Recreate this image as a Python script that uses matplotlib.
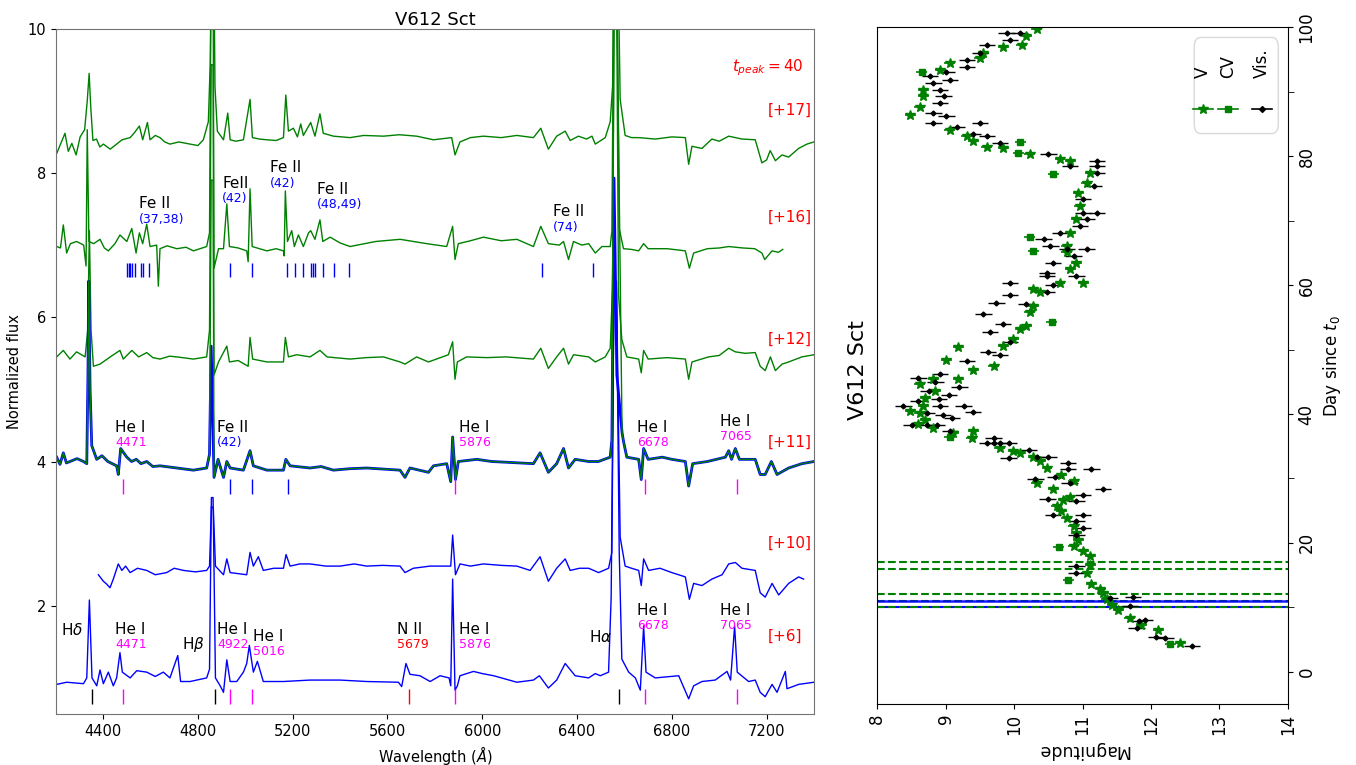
import matplotlib
matplotlib.use('Agg')
import matplotlib.pyplot as plt
from matplotlib.patches import FancyBboxPatch
import numpy as np

# ---- spectra: (wavelength [A], normalized flux + offset)
sp17 = [(4204, 8.27), (4239, 8.55), (4253, 8.30), (4268, 8.41), (4286, 8.25), (4303, 8.50),
        (4322, 8.60), (4333, 9.00), (4341, 9.38), (4348, 8.90), (4357, 8.45), (4372, 8.47),
        (4386, 8.36), (4401, 8.40), (4430, 8.33), (4457, 8.40), (4480, 8.46), (4514, 8.49),
        (4530, 8.55), (4553, 8.65), (4567, 8.46), (4587, 8.70), (4598, 8.46), (4620, 8.52),
        (4640, 8.49), (4660, 8.43), (4682, 8.40), (4720, 8.43), (4767, 8.40), (4800, 8.38),
        (4823, 8.46), (4844, 8.71), (4852, 9.51), (4858, 11.5), (4866, 11.5), (4872, 9.2),
        (4882, 8.58), (4908, 8.46), (4926, 8.83), (4936, 8.46), (4960, 8.44), (4992, 8.46),
        (5020, 9.02), (5030, 8.49), (5060, 8.47), (5091, 8.46), (5130, 8.45), (5161, 8.49),
        (5171, 9.08), (5182, 8.58), (5203, 8.62), (5220, 8.50), (5234, 8.68), (5245, 8.52),
        (5276, 8.70), (5294, 8.51), (5315, 8.82), (5329, 8.55), (5372, 8.51), (5442, 8.49),
        (5500, 8.52), (5583, 8.51), (5650, 8.53), (5723, 8.51), (5794, 8.46), (5871, 8.49),
        (5885, 8.25), (5906, 8.43), (5950, 8.49), (6005, 8.51), (6080, 8.49), (6146, 8.52),
        (6216, 8.49), (6247, 8.62), (6279, 8.33), (6314, 8.51), (6350, 8.58), (6371, 8.45),
        (6406, 8.51), (6440, 8.47), (6463, 8.51), (6477, 8.40), (6519, 8.49), (6540, 8.71),
        (6550, 9.20), (6558, 12.0), (6568, 12.0), (6582, 9.02), (6603, 8.52), (6630, 8.49),
        (6660, 8.49), (6730, 8.47), (6800, 8.50), (6857, 8.49), (6871, 8.12), (6885, 8.37),
        (6927, 8.34), (6969, 8.47), (7000, 8.44), (7040, 8.51), (7096, 8.47), (7152, 8.46),
        (7180, 8.14), (7200, 8.18), (7215, 8.31), (7237, 8.17), (7265, 8.25), (7293, 8.22),
        (7335, 8.34), (7370, 8.40), (7400, 8.43)]

sp16 = [(4204, 6.98), (4220, 6.96), (4232, 7.28), (4246, 6.89), (4262, 7.02), (4288, 7.05),
        (4318, 7.00), (4328, 6.71), (4333, 8.60), (4340, 7.05), (4360, 7.02), (4387, 7.08),
        (4405, 6.96), (4422, 6.92), (4450, 7.02), (4471, 7.14), (4500, 7.05), (4521, 7.23),
        (4539, 6.89), (4553, 7.17), (4567, 7.02), (4584, 7.29), (4598, 6.98), (4626, 7.00),
        (4633, 6.43), (4640, 6.95), (4670, 6.99), (4711, 6.95), (4750, 6.97), (4781, 6.92),
        (4837, 6.98), (4849, 7.17), (4856, 11.0), (4864, 11.0), (4868, 6.68), (4887, 6.95),
        (4908, 6.95), (4922, 7.57), (4933, 6.98), (4970, 6.96), (5006, 6.92), (5012, 6.77),
        (5020, 7.78), (5029, 6.98), (5060, 6.95), (5091, 6.92), (5130, 6.95), (5161, 6.92),
        (5164, 6.85), (5169, 7.75), (5178, 7.05), (5196, 7.20), (5207, 6.98), (5224, 7.14),
        (5245, 6.98), (5267, 7.17), (5276, 7.20), (5294, 7.08), (5315, 7.35), (5327, 7.05),
        (5358, 7.11), (5400, 7.03), (5442, 6.98), (5550, 7.05), (5653, 7.08), (5766, 7.02),
        (5850, 6.98), (5875, 7.26), (5885, 6.80), (5899, 7.02), (5950, 7.06), (6005, 7.11),
        (6080, 7.06), (6146, 7.08), (6216, 6.98), (6247, 7.26), (6279, 7.02), (6325, 7.00),
        (6343, 7.05), (6364, 6.80), (6385, 7.05), (6420, 7.00), (6449, 7.02), (6477, 6.89),
        (6505, 6.98), (6540, 6.98), (6547, 7.20), (6556, 11.0), (6568, 11.0), (6578, 7.23),
        (6596, 6.95), (6630, 6.94), (6660, 6.92), (6681, 7.02), (6700, 6.95), (6780, 6.95),
        (6857, 6.92), (6874, 6.68), (6892, 6.89), (6950, 6.95), (7000, 6.96), (7040, 6.98),
        (7100, 6.96), (7150, 6.95), (7180, 6.89), (7192, 6.80), (7223, 6.92), (7250, 6.90),
        (7268, 6.94)]

sp12 = [(4204, 5.45), (4232, 5.54), (4260, 5.42), (4288, 5.52), (4324, 5.45), (4335, 5.82),
        (4342, 7.20), (4349, 5.82), (4359, 5.32), (4387, 5.35), (4430, 5.45), (4471, 5.54),
        (4485, 5.42), (4521, 5.54), (4550, 5.45), (4584, 5.51), (4610, 5.44), (4640, 5.42),
        (4680, 5.46), (4711, 5.45), (4781, 5.42), (4837, 5.45), (4849, 5.82), (4856, 9.5),
        (4864, 9.5), (4868, 5.20), (4887, 5.38), (4922, 5.60), (4933, 5.38), (4970, 5.40),
        (5012, 5.32), (5020, 5.72), (5031, 5.42), (5091, 5.38), (5161, 5.38), (5169, 5.72),
        (5182, 5.45), (5217, 5.48), (5273, 5.45), (5315, 5.54), (5345, 5.45), (5442, 5.42),
        (5510, 5.44), (5583, 5.45), (5653, 5.38), (5674, 5.35), (5723, 5.45), (5773, 5.38),
        (5857, 5.48), (5875, 5.66), (5885, 5.14), (5895, 5.38), (5934, 5.45), (6020, 5.44),
        (6100, 5.45), (6216, 5.42), (6247, 5.57), (6279, 5.29), (6314, 5.45), (6343, 5.57),
        (6364, 5.35), (6385, 5.48), (6449, 5.45), (6477, 5.38), (6519, 5.45), (6540, 5.57),
        (6550, 6.43), (6557, 10.5), (6567, 10.5), (6575, 6.31), (6589, 5.69), (6610, 5.45),
        (6660, 5.42), (6671, 5.23), (6681, 5.54), (6700, 5.42), (6780, 5.44), (6857, 5.42),
        (6871, 5.14), (6885, 5.38), (6955, 5.45), (7000, 5.47), (7040, 5.57), (7068, 5.52),
        (7110, 5.50), (7152, 5.51), (7173, 5.32), (7194, 5.26), (7216, 5.45), (7237, 5.26),
        (7265, 5.35), (7293, 5.38), (7349, 5.45), (7400, 5.48)]

sp11 = [(4204, 4.06), (4218, 3.96), (4232, 4.12), (4245, 3.98), (4260, 4.00), (4290, 4.04),
        (4317, 4.00), (4331, 3.97), (4336, 5.20), (4339, 6.50), (4345, 5.00), (4352, 4.22),
        (4373, 4.03), (4395, 4.08), (4420, 4.00), (4457, 3.94), (4464, 3.82), (4474, 4.18),
        (4500, 4.06), (4520, 4.00), (4540, 4.03), (4560, 3.97), (4584, 4.00), (4610, 3.93),
        (4640, 3.94), (4711, 3.91), (4781, 3.88), (4837, 3.91), (4849, 4.10), (4856, 7.9),
        (4864, 7.9), (4868, 3.78), (4885, 4.03), (4908, 3.78), (4922, 4.00), (4936, 3.91),
        (4992, 3.88), (5020, 4.15), (5034, 3.94), (5091, 3.88), (5161, 3.88), (5171, 4.03),
        (5189, 3.94), (5273, 3.91), (5320, 3.93), (5372, 3.88), (5440, 3.90), (5512, 3.91),
        (5653, 3.88), (5674, 3.78), (5695, 3.91), (5773, 3.85), (5794, 3.94), (5850, 3.97),
        (5867, 3.72), (5875, 4.34), (5887, 3.75), (5899, 4.00), (5977, 4.03), (6040, 4.00),
        (6100, 3.99), (6216, 3.97), (6244, 4.12), (6279, 3.85), (6314, 3.97), (6343, 4.18),
        (6364, 3.91), (6392, 4.03), (6449, 4.00), (6490, 4.00), (6540, 4.06), (6547, 4.30),
        (6556, 10.5), (6568, 10.5), (6590, 4.40), (6596, 4.28), (6610, 4.06), (6660, 4.03),
        (6671, 3.75), (6681, 4.18), (6700, 4.03), (6760, 4.06), (6800, 4.03), (6857, 4.00),
        (6871, 3.66), (6888, 3.97), (6950, 4.00), (7026, 4.06), (7040, 4.15), (7052, 4.03),
        (7068, 4.18), (7085, 4.03), (7152, 4.03), (7173, 3.82), (7194, 3.82), (7220, 4.00),
        (7244, 3.82), (7293, 3.91), (7349, 3.97), (7400, 4.00)]

# blue +11 spectrum peaks (the rest coincides with the green one)
sp11_blue_peaks = {4856: 5.6, 4864: 4.4, 6556: 7.93, 6568: 5.2}

sp10 = [(4380, 2.43), (4401, 2.34), (4415, 2.30), (4429, 2.25), (4443, 2.37), (4464, 2.58),
        (4479, 2.49), (4495, 2.55), (4514, 2.46), (4545, 2.52), (4584, 2.49), (4620, 2.43),
        (4668, 2.46), (4700, 2.52), (4739, 2.49), (4790, 2.47), (4837, 2.49), (4849, 2.55),
        (4857, 3.38), (4865, 3.35), (4874, 2.55), (4908, 2.43), (4922, 2.65), (4936, 2.46),
        (5006, 2.43), (5020, 2.74), (5034, 2.55), (5055, 2.68), (5076, 2.49), (5120, 2.52),
        (5161, 2.52), (5172, 2.71), (5189, 2.55), (5230, 2.58), (5273, 2.58), (5340, 2.55),
        (5400, 2.55), (5460, 2.58), (5512, 2.55), (5580, 2.56), (5653, 2.55), (5674, 2.46),
        (5709, 2.52), (5780, 2.55), (5850, 2.55), (5867, 2.55), (5875, 2.98), (5887, 2.43),
        (5906, 2.58), (5950, 2.55), (6005, 2.58), (6080, 2.56), (6146, 2.55), (6202, 2.49),
        (6244, 2.68), (6279, 2.34), (6314, 2.52), (6350, 2.65), (6371, 2.49), (6410, 2.52),
        (6449, 2.52), (6491, 2.46), (6533, 2.52), (6547, 2.74), (6556, 6.5), (6566, 6.5),
        (6582, 2.95), (6603, 2.55), (6630, 2.52), (6660, 2.49), (6671, 2.28), (6681, 2.65),
        (6702, 2.49), (6750, 2.52), (6800, 2.46), (6857, 2.40), (6874, 2.09), (6892, 2.31),
        (6927, 2.28), (6969, 2.37), (7012, 2.43), (7040, 2.58), (7068, 2.60), (7096, 2.52),
        (7152, 2.49), (7173, 2.18), (7194, 2.12), (7223, 2.31), (7251, 2.15), (7293, 2.31),
        (7335, 2.40), (7356, 2.37)]

sp6 = [(4204, 0.91), (4246, 0.94), (4317, 0.92), (4331, 1.00), (4342, 2.08), (4353, 1.00),
       (4373, 0.89), (4387, 1.11), (4401, 0.92), (4422, 1.08), (4443, 0.89), (4457, 1.00),
       (4471, 1.35), (4481, 1.08), (4514, 1.00), (4542, 1.10), (4584, 1.08), (4620, 1.02),
       (4654, 1.08), (4682, 1.00), (4715, 1.31), (4727, 0.95), (4767, 0.95), (4837, 1.00),
       (4849, 1.12), (4857, 3.5), (4864, 3.5), (4874, 1.00), (4894, 0.89), (4908, 0.80),
       (4922, 1.25), (4936, 0.95), (4964, 0.95), (4992, 1.08), (5006, 1.20), (5017, 1.45),
       (5034, 1.08), (5051, 1.23), (5076, 0.95), (5161, 0.95), (5273, 0.97), (5400, 0.97),
       (5512, 0.95), (5646, 0.94), (5660, 0.88), (5678, 1.20), (5695, 1.05), (5737, 1.03),
       (5780, 0.95), (5822, 1.03), (5860, 1.00), (5867, 0.89), (5875, 2.37), (5885, 0.83),
       (5895, 0.89), (5906, 1.03), (5963, 1.09), (6000, 1.06), (6048, 1.03), (6146, 0.94),
       (6216, 0.97), (6241, 1.03), (6279, 0.86), (6314, 0.97), (6350, 1.20), (6392, 1.03),
       (6449, 1.00), (6477, 1.06), (6498, 1.03), (6533, 1.08), (6544, 2.12), (6556, 6.5),
       (6566, 6.5), (6578, 2.74), (6589, 1.26), (6618, 1.08), (6646, 1.00), (6667, 0.83),
       (6681, 1.72), (6691, 1.08), (6730, 1.00), (6829, 1.03), (6871, 0.71), (6892, 0.89),
       (6927, 0.95), (6983, 0.97), (7033, 1.09), (7048, 0.97), (7065, 1.72), (7076, 1.08),
       (7124, 0.95), (7152, 0.97), (7173, 0.80), (7194, 0.74), (7223, 0.91), (7244, 0.80),
       (7279, 1.09), (7286, 0.85), (7335, 0.91), (7400, 0.94)]

# epoch labels (text, flux level)
epoch_labels = ['[+17]', '[+16]', '[+12]', '[+11]', '[+10]', '[+6]']
epoch_levels = [8.87, 7.38, 5.69, 4.27, 2.86, 1.58]

# line identification ticks
fe_ticks = [4501, 4508, 4514, 4522, 4535, 4561, 4569, 4594, 4936, 5030, 5178, 5210,
            5245, 5276, 5285, 5295, 5330, 5375, 5437, 6251, 6467]
he_ticks_11 = [4483, 5885, 6688, 7075]
fe_ticks_11 = [4936, 5030, 5179]
h_ticks_6 = [4352, 4872, 6575]
he_ticks_6 = [4483, 4934, 5029, 5885, 6688, 7075]
n_ticks_6 = [5690]

# ---- light curve (day since t0, magnitude)
vis_pts = [(4.0, 12.60), (5.3, 12.21), (5.4, 12.08), (6.8, 11.79), (7.9, 11.82), (8.0, 11.91),
           (10.2, 11.69), (11.6, 11.74), (11.4, 11.40), (15.3, 10.91), (16.4, 10.91),
           (21.3, 10.91), (22.3, 11.01), (23.4, 10.91), (24.4, 11.01), (24.4, 10.57),
           (26.5, 10.91), (27.5, 11.01), (28.3, 11.30), (26.8, 10.49), (29.3, 10.81),
           (30.3, 10.60), (31.4, 10.79), (31.4, 11.13), (32.4, 10.79), (29.9, 10.31),
           (33.4, 10.50), (33.4, 10.33), (34.4, 10.21), (33.2, 9.92), (35.5, 9.92),
           (35.5, 9.79), (35.5, 9.70), (36.3, 9.70), (35.5, 9.60), (37.3, 9.06), (38.3, 8.87),
           (38.3, 8.72), (38.3, 8.50), (39.4, 9.09), (39.9, 8.96), (40.2, 8.72), (40.3, 9.40),
           (41.2, 9.26), (41.2, 8.92), (41.2, 8.38), (42.0, 8.60), (42.3, 8.90), (43.0, 9.05),
           (43.5, 8.75), (44.2, 9.20), (45.0, 8.85), (45.6, 8.60), (46.2, 8.92), (48.3, 9.31),
           (49.6, 9.62), (49.1, 9.79), (51.1, 9.94), (52.7, 9.65), (54.0, 9.84), (55.5, 9.55),
           (57.3, 9.74), (58.4, 9.94), (60.4, 9.94), (57.1, 10.18), (58.9, 10.48),
           (60.0, 10.57), (61.4, 10.48), (61.9, 10.48), (61.4, 10.91), (63.5, 10.57),
           (64.5, 10.87), (65.6, 10.77), (65.6, 11.06), (66.1, 10.53), (67.1, 10.43),
           (68.1, 10.67), (69.2, 10.96), (70.2, 11.06), (71.2, 11.01), (71.2, 11.21),
           (73.3, 11.01), (75.4, 11.16), (77.4, 11.21), (78.5, 11.21), (79.2, 11.21),
           (78.5, 10.82), (80.3, 10.50), (82.1, 9.79), (83.1, 9.60), (83.4, 9.40), (85.2, 9.50),
           (84.6, 9.16), (86.2, 9.01), (85.2, 8.82), (86.7, 8.82), (88.2, 8.92), (89.3, 8.97),
           (90.3, 8.92), (91.3, 8.82), (92.4, 8.77), (91.9, 9.06), (93.1, 9.01), (93.9, 9.31),
           (94.9, 9.31), (96.0, 9.50), (97.3, 9.60), (98.0, 9.94), (99.1, 9.89), (99.1, 10.08)]

v_pts = [(4.5, 12.43), (6.5, 12.11), (7.2, 11.86), (8.4, 11.69), (9.6, 11.52), (10.3, 11.43),
         (11.3, 11.35), (12.2, 11.30), (12.8, 11.26), (13.7, 11.13), (15.3, 11.06),
         (16.6, 11.11), (17.9, 11.11), (18.7, 11.01), (19.5, 10.87), (20.5, 10.94),
         (21.5, 10.91), (22.6, 10.87), (23.9, 10.77), (24.9, 10.69), (25.7, 10.62),
         (26.7, 10.72), (27.2, 10.81), (28.3, 10.57), (29.6, 10.87), (30.6, 10.69),
         (29.3, 10.33), (31.6, 10.48), (32.7, 10.38), (33.4, 10.28), (34.0, 10.09),
         (34.2, 9.99), (34.7, 9.79), (36.3, 9.38), (37.3, 9.40), (37.1, 9.11), (37.8, 8.82),
         (38.5, 8.60), (39.0, 8.70), (40.2, 8.62), (40.4, 8.48), (41.2, 8.67), (42.5, 8.70),
         (43.5, 8.85), (44.7, 8.62), (45.5, 8.82), (45.5, 9.18), (46.8, 9.40), (47.5, 9.70),
         (48.4, 9.01), (50.4, 9.18), (51.6, 9.99), (50.6, 9.84), (53.2, 10.09), (53.7, 10.18),
         (55.8, 10.23), (56.8, 10.28), (58.9, 10.38), (59.4, 10.28), (60.4, 10.67),
         (60.4, 11.01), (62.5, 10.82), (63.5, 10.91), (65.1, 10.77), (66.1, 10.77),
         (68.1, 10.82), (70.2, 10.91), (72.3, 10.96), (74.3, 10.94), (75.9, 11.06),
         (77.4, 11.11), (79.2, 10.82), (79.5, 10.67), (80.3, 10.23), (81.3, 9.84), (81.5, 9.60),
         (82.3, 9.40), (83.1, 9.31), (84.1, 9.06), (86.4, 8.48), (87.7, 8.62), (89.3, 8.67),
         (90.3, 8.67), (93.4, 8.92), (94.4, 9.06), (95.2, 9.50), (96.0, 9.55), (97.0, 9.84),
         (97.3, 10.11), (98.6, 10.18), (99.8, 10.33)]

cv_pts = [(4.3, 12.28), (14.3, 10.79), (19.3, 10.65), (36.5, 9.06), (54.3, 10.55),
          (65.3, 10.28), (67.4, 10.23), (77.3, 10.57), (80.5, 10.06), (82.2, 10.09),
          (93.1, 8.65)]

# days of the spectra marked on the light curve
blue_days = [10, 11]
green_days = [10, 11, 12, 16, 17]

# ---------------------------------------------------------------------------
fig = plt.figure(figsize=(13.56, 7.65), dpi=100)
ax = fig.add_axes([0.0411, 0.0667, 0.5592, 0.8958])
ax2 = fig.add_axes([0.647, 0.0797, 0.3027, 0.8846])

def xy(pairs):
    a = np.array(pairs, dtype=float)
    return a[:, 0], a[:, 1]

for sp, col in [(sp17, 'green'), (sp16, 'green'), (sp12, 'green'), (sp10, 'blue'), (sp6, 'blue')]:
    w, f = xy(sp)
    ax.plot(w, f, color=col, lw=1.0)
w, f = xy(sp11)
f_blue = np.array([sp11_blue_peaks.get(int(wl), fl) for wl, fl in sp11])
ax.plot(w, f_blue, color='blue', lw=2.0)
ax.plot(w, f, color='green', lw=1.0)

ax.set_xlim(4200, 7400)
ax.set_ylim(0.5, 10)
ax.set_xticks(np.arange(4400, 7201, 400))
ax.set_yticks([2, 4, 6, 8, 10])
ax.tick_params(labelsize=10.5)
for s in ax.spines.values():
    s.set_color('0.45')
ax.set_xlabel(r'Wavelength ($\AA$)', fontsize=10.5)
ax.set_ylabel('Normalized flux', fontsize=10.5)
ax.set_title('V612 Sct', fontsize=13, pad=3)

for lab, lev in zip(epoch_labels, epoch_levels):
    ax.text(7203, lev, lab, color='red', fontsize=11, ha='left', va='center')
ax.text(7053, 9.46, r'$t_{peak} = 40$', color='red', fontsize=11, ha='left', va='center')

# identification ticks
ax.vlines(fe_ticks, 6.56, 6.75, colors='blue', lw=1.0)
ax.vlines(he_ticks_11, 3.55, 3.76, colors='magenta', lw=1.0)
ax.vlines(fe_ticks_11, 3.55, 3.76, colors='blue', lw=1.0)
ax.vlines(h_ticks_6, 0.64, 0.85, colors='black', lw=1.0)
ax.vlines(he_ticks_6, 0.64, 0.85, colors='magenta', lw=1.0)
ax.vlines(n_ticks_6, 0.64, 0.85, colors='red', lw=1.0)

def ident(x, y, name, sub, subcol, dy=0.21):
    ax.text(x, y, name, fontsize=11, ha='left', va='center')
    if sub:
        ax.text(x, y - dy, sub, fontsize=9, color=subcol, ha='left', va='center')

ident(4552, 7.57, 'Fe II', '(37,38)', 'blue')
ident(4903, 7.86, 'FeII', '(42)', 'blue')
ident(5105, 8.07, 'Fe II', '(42)', 'blue')
ident(5304, 7.77, 'Fe II', '(48,49)', 'blue')
ident(6300, 7.46, 'Fe II', '(74)', 'blue')
ident(4451, 4.47, 'He I', '4471', 'magenta')
ident(4882, 4.47, 'Fe II', '(42)', 'blue')
ident(5903, 4.47, 'He I', '5876', 'magenta')
ident(6653, 4.47, 'He I', '6678', 'magenta')
ident(7003, 4.56, 'He I', '7065', 'magenta')
ident(4451, 1.67, 'He I', '4471', 'magenta')
ident(4882, 1.67, 'He I', '4922', 'magenta')
ident(5033, 1.57, 'He I', '5016', 'magenta')
ident(5641, 1.67, 'N II', '5679', 'red')
ident(5903, 1.67, 'He I', '5876', 'magenta')
ident(6653, 1.94, 'He I', '6678', 'magenta')
ident(7003, 1.94, 'He I', '7065', 'magenta')
ident(4222, 1.67, r'H$\delta$', None, None)
ident(4733, 1.46, r'H$\beta$', None, None)
ident(6452, 1.57, r'H$\alpha$', None, None)

# ---- light curve panel (rotated layout)
for d in blue_days[:1]:
    ax2.axhline(d, color='blue', lw=1.5)
for d in green_days:
    ax2.axhline(d, color='green', lw=1.5, ls='--')
for d in blue_days[1:]:
    ax2.axhline(d, color='blue', lw=1.8, alpha=0.9)

d, m = xy(v_pts)
ax2.errorbar(m, d, xerr=0.08, fmt='*', color='green', ms=7, elinewidth=1.2, capsize=0)
d, m = xy(cv_pts)
ax2.errorbar(m, d, xerr=0.08, fmt='s', color='green', ms=5, elinewidth=1.2, capsize=0)
d, m = xy(vis_pts)
ax2.errorbar(m, d, xerr=0.12, fmt='D', color='black', ms=2.5, elinewidth=1.0, capsize=0)

ax2.set_xlim(8, 14)
ax2.set_ylim(-5, 100)
ax2.set_xticks(np.arange(8, 15, 1))
ax2.set_yticks(np.arange(0, 101, 20))
ax2.set_yticks(np.arange(10, 100, 20), minor=True)
ax2.yaxis.tick_right()
ax2.yaxis.set_label_position('right')
ax2.tick_params(axis='both', labelsize=12)
ax2.tick_params(axis='y', which='minor', length=4)
plt.setp(ax2.get_xticklabels(), rotation=90)
plt.setp(ax2.get_yticklabels(), rotation=90, va='center')
ax2.set_xlabel('Magnitude', fontsize=12.5, rotation=180)
ax2.set_ylabel(r'Day since $t_0$', fontsize=12, rotation=90)
fig.text(0.6327, 0.516, 'V612 Sct', fontsize=16, rotation=90, ha='center', va='center')

# legend, drawn turned by 90 degrees like the rest of the panel
box = FancyBboxPatch((0.772, 0.843), 0.205, 0.142, boxstyle='round,pad=0,rounding_size=0.015',
                     transform=ax2.transAxes, fc='white', ec='0.85', lw=1.0, zorder=5)
ax2.add_patch(box)
leg_items = [('V', 'green', '*', 7), ('CV', 'green', 's', 5), ('Vis.', 'black', 'D', 3)]
leg_x = [0.794, 0.855, 0.937]
for (lab, col, mk, ms), lx in zip(leg_items, leg_x):
    ax2.plot([lx - 0.024, lx + 0.024], [0.879, 0.879], color=col, lw=1.2,
             transform=ax2.transAxes, zorder=6)
    ax2.plot([lx], [0.879], marker=mk, color=col, ms=ms, transform=ax2.transAxes, zorder=6)
    ax2.text(lx, 0.925, lab, rotation=90, fontsize=12, ha='center', va='bottom',
             transform=ax2.transAxes, zorder=6)

fig.savefig('out.png', dpi=100)
